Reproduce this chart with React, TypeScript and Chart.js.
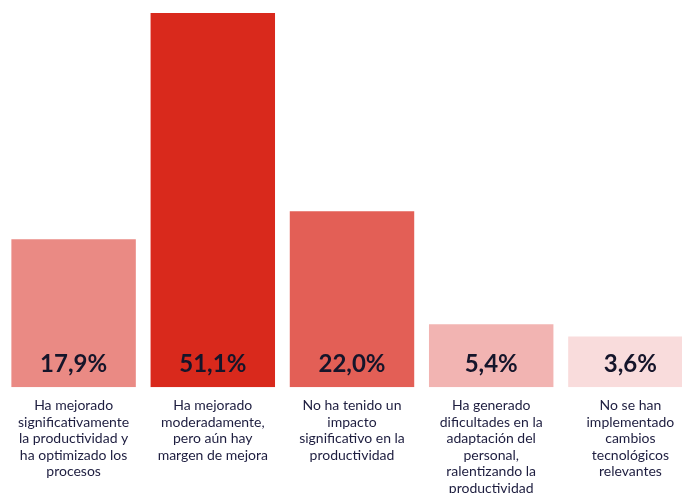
import React, { useEffect, useRef } from "react";
import { Chart, registerables } from "chart.js";

Chart.register(...registerables);

const categories: string[][] = [
  ["Ha mejorado", "significativamente", "la productividad y", "ha optimizado los", "procesos"],
  ["Ha mejorado", "moderadamente,", "pero aún hay", "margen de mejora"],
  ["No ha tenido un", "impacto", "significativo en la", "productividad"],
  ["Ha generado", "dificultades en la", "adaptación del", "personal,", "ralentizando la", "productividad"],
  ["No se han", "implementado", "cambios", "tecnológicos", "relevantes"],
];
const values: number[] = [17.9, 51.1, 22.0, 5.4, 3.6];
const colors: string[] = ["#EA8A84", "#D9291C", "#E35F56", "#F2B4B2", "#F9DCDC"];

const FONT = "Lato, 'Open Sans', sans-serif";

const valueLabels = {
  id: "valueLabels",
  afterDatasetsDraw(chart: any) {
    const ctx = chart.ctx;
    const meta = chart.getDatasetMeta(0);
    ctx.save();
    ctx.font = `bold 24px ${FONT}`;
    ctx.fillStyle = "#15152a";
    ctx.textAlign = "center";
    ctx.textBaseline = "middle";
    meta.data.forEach((bar: any, i: number) => {
      const v = values[i];
      const txt = v.toFixed(1).replace(".", ",") + "%";
      ctx.fillText(txt, bar.x, chart.chartArea.bottom - 23);
    });
    ctx.restore();
  },
};

export default function App() {
  const ref = useRef<HTMLCanvasElement | null>(null);
  useEffect(() => {
    if (!ref.current) return;
    const chart = new Chart(ref.current, {
      type: "bar",
      data: {
        labels: categories,
        datasets: [
          {
            data: values,
            backgroundColor: colors,
            borderWidth: 0,
            base: -3.85,
            barPercentage: 0.894,
            categoryPercentage: 1,
          } as any,
        ],
      },
      options: {
        animation: false,
        responsive: true,
        maintainAspectRatio: false,
        layout: { padding: { left: 4, right: 4, top: 0, bottom: 0 } },
        plugins: {
          legend: { display: false },
          tooltip: { enabled: false },
        },
        scales: {
          y: {
            display: false,
            min: -3.85,
            max: 53.02,
          },
          x: {
            grid: { display: false, drawTicks: false },
            border: { display: false },
            ticks: {
              autoSkip: false,
              maxRotation: 0,
              minRotation: 0,
              padding: 10,
              color: "#1d1d3f",
              font: { family: FONT, size: 14, lineHeight: 1.18 },
            },
            afterFit(scale: any) {
              scale.height = 105.7;
            },
          },
        },
      },
      plugins: [valueLabels],
    });
    return () => chart.destroy();
  }, []);
  return (
    <div style={{ position: "fixed", left: 0, top: 0, width: 682, height: 493, overflow: "hidden", background: "#fff" }}>
      <div style={{ position: "relative", width: 704, height: 493 }}>
        <canvas ref={ref} />
      </div>
    </div>
  );
}
